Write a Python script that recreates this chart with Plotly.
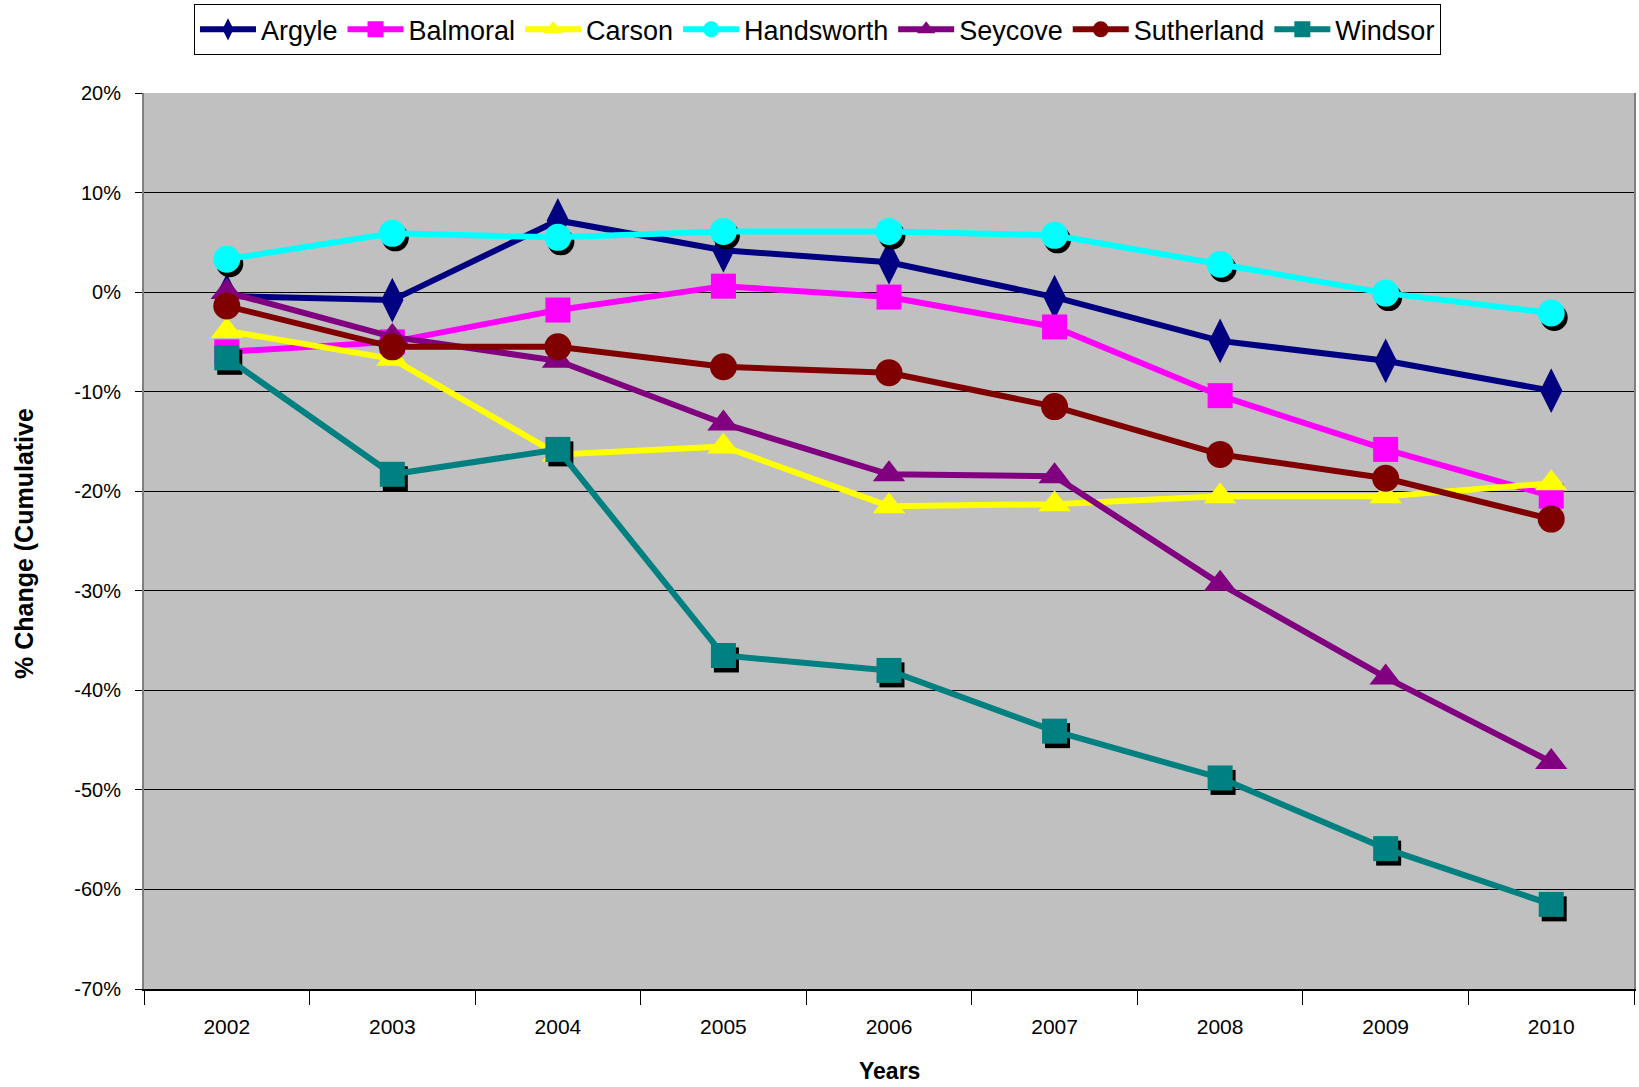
import plotly.graph_objects as go

years = ["2002", "2003", "2004", "2005", "2006", "2007", "2008", "2009", "2010"]

argyle = [-0.4, -0.8, 7.2, 4.2, 3.0, -0.5, -4.9, -6.9, -9.9]
balmoral = [-6.0, -5.0, -1.8, 0.6, -0.5, -3.5, -10.4, -15.8, -20.5]
carson = [-3.9, -6.7, -16.3, -15.5, -21.5, -21.3, -20.5, -20.5, -19.2]
handsworth = [3.3, 5.9, 5.5, 6.1, 6.1, 5.7, 2.8, -0.1, -2.1]
seycove = [0.0, -4.5, -6.9, -13.2, -18.3, -18.5, -29.3, -38.7, -47.2]
sutherland = [-1.4, -5.5, -5.5, -7.5, -8.1, -11.5, -16.3, -18.7, -22.8]
windsor = [-6.6, -18.3, -15.8, -36.5, -38.0, -44.1, -48.8, -55.9, -61.5]

y_tick_vals = [20, 10, 0, -10, -20, -30, -40, -50, -60, -70]
y_tick_text = ["20%", "10%", "0%", "-10%", "-20%", "-30%", "-40%", "-50%", "-60%", "-70%"]

series = [
    ("Argyle", argyle, "#000080", "diamond-tall", 32, False),
    ("Balmoral", balmoral, "#FF00FF", "square", 25, False),
    ("Carson", carson, "#FFFF00", "triangle-up", 28, False),
    ("Handsworth", handsworth, "#00FFFF", "circle", 27, True),
    ("Seycove", seycove, "#800080", "triangle-up", 28, False),
    ("Sutherland", sutherland, "#800000", "circle", 27, False),
    ("Windsor", windsor, "#008080", "square", 25, True),
]

FONT = "Liberation Sans, Arial, sans-serif"

fig = go.Figure()

layer = 1
shadow_layers = []
for name, vals, color, sym, size, shadow in series:
    if shadow:
        layer += 1
        shadow_layers.append(layer)
        fig.add_trace(go.Scatter(
            x=years, y=vals, mode="markers", showlegend=False, hoverinfo="skip",
            marker=dict(symbol=sym, size=size, color="black", line=dict(width=0)),
            xaxis="x%d" % layer, yaxis="y%d" % layer))
        layer += 1
    fig.add_trace(go.Scatter(
        x=years, y=vals, mode="lines+markers", name=name,
        line=dict(color=color, width=6),
        marker=dict(symbol=sym, size=size, color=color, line=dict(width=0)),
        xaxis="x" if layer == 1 else "x%d" % layer,
        yaxis="y" if layer == 1 else "y%d" % layer))

n_layers = layer
XR = [-0.5, 8.5]
YR = [-70, 20]
dx = 0.018
dy = 0.45

layout = dict(
    width=1639, height=1087,
    margin=dict(l=144, r=3, t=93, b=98),
    paper_bgcolor="white",
    plot_bgcolor="#C0C0C0",
    showlegend=True,
    legend=dict(
        orientation="h", x=0.452, xanchor="center", y=1.099, yanchor="top",
        bgcolor="white", bordercolor="black", borderwidth=1,
        font=dict(family=FONT, size=27, color="black"),
        itemsizing="trace", tracegroupgap=0, itemwidth=56,
    ),
    xaxis=dict(
        type="category", range=XR, tickson="boundaries",
        ticks="outside", ticklen=14, tickcolor="black", tickwidth=1,
        showline=True, linecolor="black", linewidth=2,
        showgrid=False, zeroline=False,
        tickfont=dict(family=FONT, size=21, color="black"),
        ticklabelstandoff=18,
    ),
    yaxis=dict(
        range=YR, tickvals=y_tick_vals, ticktext=y_tick_text,
        ticks="outside", ticklen=7, tickcolor="black",
        showline=True, linecolor="#808080", linewidth=2, mirror=True,
        showgrid=True, gridcolor="black", gridwidth=1, zeroline=False,
        tickfont=dict(family=FONT, size=20, color="black"),
        ticklabelstandoff=10,
    ),
    annotations=[
        dict(text="<b>% Change (Cumulative</b>", xref="paper", yref="paper",
             x=-0.081, y=0.497, textangle=-90, showarrow=False,
             xanchor="center", yanchor="middle",
             font=dict(family=FONT, size=25, color="black")),
        dict(text="<b>Years</b>", xref="paper", yref="paper",
             x=0.5, y=-0.091, showarrow=False,
             xanchor="center", yanchor="middle",
             font=dict(family=FONT, size=23, color="black")),
    ],
)

for k in range(2, n_layers + 1):
    is_shadow = k in shadow_layers
    xr = [XR[0] - dx, XR[1] - dx] if is_shadow else XR
    yr = [YR[0] + dy, YR[1] + dy] if is_shadow else YR
    layout["xaxis%d" % k] = dict(type="category", range=xr, overlaying="x", visible=False,
                                 categoryorder="array", categoryarray=years)
    layout["yaxis%d" % k] = dict(range=yr, overlaying="y", visible=False)

fig.update_layout(**layout)

fig.write_html("out.html", config={"displayModeBar": False},
               post_script="document.body.style.margin='0';")
